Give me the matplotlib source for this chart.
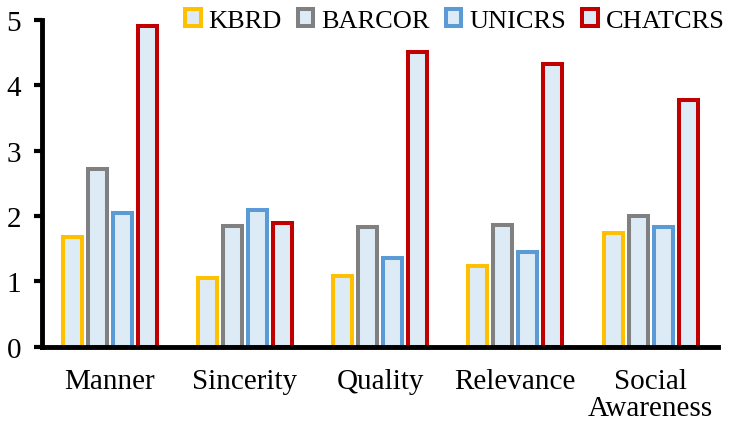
import matplotlib.pyplot as plt
import numpy as np

categories = ["Manner", "Sincerity", "Quality", "Relevance", "Social\nAwareness"]
models = ["KBRD", "BARCOR", "UNICRS", "CHATCRS"]
kbrd = [1.68, 1.05, 1.08, 1.24, 1.74]
barcor = [2.72, 1.85, 1.83, 1.86, 2.00]
unicrs = [2.05, 2.09, 1.36, 1.45, 1.83]
chatcrs = [4.90, 1.89, 4.50, 4.32, 3.77]
yticks = [0, 1, 2, 3, 4, 5]

edge_colors = ["#FFC000", "#808080", "#5B9BD5", "#C00000"]
fill = "#DDEBF7"

plt.rcParams['font.family'] = ['Liberation Serif', 'DejaVu Serif']

fig = plt.figure(figsize=(7.31, 4.31), dpi=100)
ax = fig.add_axes([0.0575, 0.193, 0.925, 0.759])

x = np.arange(len(categories))
step = 0.185
width = 0.14
series = [kbrd, barcor, unicrs, chatcrs]
for k, (vals, name) in enumerate(zip(series, models)):
    ax.bar(x + (k - 1.5) * step, vals, width, color=fill, edgecolor=edge_colors[k],
           linewidth=2.9, label=name, zorder=2)

ax.set_xlim(-0.5, len(categories) - 0.5)
ax.set_ylim(0, 5)
ax.set_yticks(yticks)
ax.set_xticks(x)
ax.set_xticklabels(categories, fontsize=21, linespacing=1.05)
ax.tick_params(axis='y', labelsize=21, width=3, length=6, pad=9)
ax.tick_params(axis='x', length=0, pad=15)
for s in ["top", "right"]:
    ax.spines[s].set_visible(False)
ax.spines["left"].set_linewidth(3.5)
ax.spines["bottom"].set_linewidth(3.5)

ax.legend(loc='upper right', bbox_to_anchor=(1.025, 1.065), ncol=4, frameon=False,
          fontsize=19, handlelength=0.6, handleheight=0.6, handletextpad=0.3,
          columnspacing=0.6, borderaxespad=0)

fig.savefig("out.png", dpi=100)
